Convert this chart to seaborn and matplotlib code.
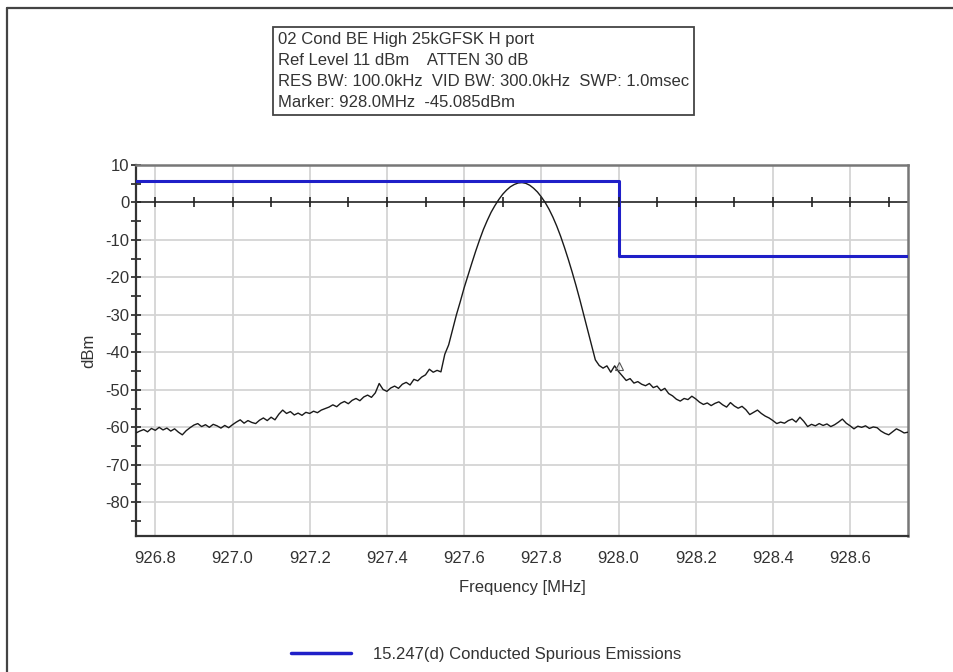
import numpy as np
import pandas as pd
import matplotlib
matplotlib.use("Agg")
import matplotlib.pyplot as plt
import seaborn as sns
from matplotlib.lines import Line2D

# ---------------- data ----------------
span_start, span_stop = 926.75, 928.75
trace_dbm = [
    -61.5, -61.0, -60.6, -61.2, -60.3, -60.8, -60.0, -60.7, -60.2, -61.0,
    -60.4, -61.3, -62.0, -60.9, -60.1, -59.4, -59.0, -59.8, -59.3, -60.0,
    -59.2, -59.6, -60.2, -59.5, -60.1, -59.3, -58.6, -58.0, -58.9, -58.2,
    -58.7, -59.0, -58.1, -57.5, -58.2, -57.3, -58.0, -56.5, -55.4, -56.3,
    -55.8, -56.7, -56.2, -56.8, -56.0, -56.3, -55.7, -56.1, -55.4, -55.0,
    -54.6, -54.0, -54.5, -53.6, -53.1, -53.7, -52.8, -52.3, -52.9, -51.9,
    -51.4, -52.0, -50.8, -48.3, -49.9, -50.4, -49.5, -49.0, -49.6, -48.5,
    -48.0, -48.7, -47.2, -47.6, -46.6, -46.0, -44.5, -45.3, -44.8, -45.2,
    -40.5, -38.0, -34.0, -30.0, -26.5, -22.8, -19.5, -16.2, -13.0, -10.0,
    -7.2, -4.8, -2.6, -0.8, 0.8, 2.2, 3.3, 4.2, 4.8, 5.2,
    5.3, 5.1, 4.6, 3.8, 2.8, 1.5, 0.0, -1.8, -3.9, -6.3,
    -9.0, -12.0, -15.2, -18.6, -22.2, -26.0, -30.0, -34.0, -38.0, -42.0,
    -43.5, -44.2, -43.6, -45.3, -43.6, -45.1, -46.3, -47.5, -47.0, -48.2,
    -47.8, -48.5, -48.9, -48.3, -49.4, -49.0, -50.2, -49.6, -51.0, -51.6,
    -52.5, -53.0, -52.3, -52.6, -51.7, -52.4, -53.3, -53.9, -53.5, -54.2,
    -53.6, -53.2, -54.0, -54.6, -53.4, -54.3, -54.9, -54.4, -55.3, -56.6,
    -56.0, -55.4, -56.3, -57.0, -57.5, -58.2, -59.0, -58.6, -58.9, -58.2,
    -57.8, -58.6, -57.3, -58.4, -59.8, -59.2, -59.6, -59.0, -59.5, -59.1,
    -59.8, -59.3, -58.6, -57.8, -58.9, -59.6, -60.4, -59.7, -60.0, -59.6,
    -60.3, -59.9, -60.1, -61.0, -61.6, -62.0, -61.2, -60.4, -60.9, -61.5,
    -61.3,
]
limit_freq = [926.75, 928.0, 928.75]
limit_dbm = [5.6, -14.4, -14.4]
marker_freq = 928.0
marker_dbm = -45.085

x_ticks = [926.8, 927.0, 927.2, 927.4, 927.6, 927.8, 928.0, 928.2, 928.4, 928.6]
y_ticks = [10, 0, -10, -20, -30, -40, -50, -60, -70, -80]

info_lines = [
    "02 Cond BE High 25kGFSK H port",
    "Ref Level 11 dBm    ATTEN 30 dB",
    "RES BW: 100.0kHz  VID BW: 300.0kHz  SWP: 1.0msec",
    "Marker: 928.0MHz  -45.085dBm",
]
legend_label = "15.247(d) Conducted Spurious Emissions"

# ---------------- frames ----------------
trace_freq = np.linspace(span_start, span_stop, len(trace_dbm))
df_trace = pd.DataFrame({"freq": trace_freq, "dbm": trace_dbm})
df_limit = pd.DataFrame({"freq": limit_freq, "dbm": limit_dbm})

# ---------------- style ----------------
sns.set_style("white")
plt.rcParams["font.family"] = ["Liberation Sans", "DejaVu Sans"]
plt.rcParams["axes.unicode_minus"] = False
text_col = "#333333"
fs = 12

fig = plt.figure(figsize=(9.54, 6.72), dpi=100)
ax = fig.add_axes([136 / 954, 1 - 536 / 672, (908 - 136) / 954, (536 - 165) / 672])

# grid
for xv in x_ticks:
    ax.axvline(xv, color="#d4d4d4", lw=1.3, zorder=0)
for yv in y_ticks:
    if yv != 0:
        ax.axhline(yv, color="#d4d4d4", lw=1.3, zorder=0)
ax.axhline(0, color="#222222", lw=1.2, zorder=1)

sns.lineplot(data=df_trace, x="freq", y="dbm", ax=ax, color="#1a1a1a",
             lw=1.0, estimator=None, sort=False, zorder=3)
sns.lineplot(data=df_limit, x="freq", y="dbm", ax=ax, color="#1f1fc8",
             lw=2.2, estimator=None, sort=False, drawstyle="steps-post", zorder=4)
ax.plot([marker_freq], [marker_dbm + 1.5], marker="^", ms=6, mfc="none",
        mec="#555555", mew=0.8, zorder=5)

ax.set_xlim(span_start, span_stop)
ax.set_ylim(-89, 10)
ax.set_xticks(x_ticks)
ax.set_xticklabels([f"{v:.1f}" for v in x_ticks])
ax.set_yticks(y_ticks)
ax.set_yticks(np.arange(-85, 10, 5), minor=True)
ax.tick_params(axis="x", length=0, pad=11, labelsize=fs, labelcolor=text_col)
ax.tick_params(axis="y", which="both", direction="inout", length=7, width=1.2,
               color="#222222", labelsize=fs, labelcolor=text_col, pad=1, left=True)
ax.set_xlabel("Frequency [MHz]", fontsize=fs, color=text_col, labelpad=10)
ax.set_ylabel("dBm", fontsize=fs, color=text_col, labelpad=7)

for s in ["left", "bottom"]:
    ax.spines[s].set_color("#333333")
    ax.spines[s].set_linewidth(1.6)
for s in ["top", "right"]:
    ax.spines[s].set_color("#777777")
    ax.spines[s].set_linewidth(1.8)

# tick marks every 0.1 MHz along the zero line
axz = ax.twiny()
axz.set_xlim(span_start, span_stop)
for s in ["top", "right", "left", "bottom"]:
    axz.spines[s].set_visible(False)
axz.spines["bottom"].set_position(("data", 0))
axz.xaxis.set_ticks_position("bottom")
axz.set_xticks(np.round(np.arange(926.8, 928.75, 0.1), 1))
axz.tick_params(axis="x", direction="inout", length=7, width=1.2,
                color="#222222", labelbottom=False, labeltop=False)
axz.patch.set_visible(False)

# info box
fig.text(278 / 954, 1 - 32 / 672, "\n".join(info_lines), ha="left", va="top",
         fontsize=fs, color=text_col, linespacing=1.5,
         bbox=dict(boxstyle="square,pad=0.3", fc="white", ec="#444444", lw=1.3))

# legend
fig.legend(handles=[Line2D([], [], color="#1f1fc8", lw=2.5)],
           labels=[legend_label], loc="center", frameon=False,
           bbox_to_anchor=(486 / 954, 1 - 654 / 672), fontsize=fs,
           handlelength=3.6, handletextpad=1.3, labelcolor=text_col)

# outer frame
fig.add_artist(Line2D([7 / 954, 7 / 954], [0, 1 - 8 / 672], transform=fig.transFigure,
                      color="#444444", lw=1.6))
fig.add_artist(Line2D([7 / 954, 1], [1 - 8 / 672, 1 - 8 / 672], transform=fig.transFigure,
                      color="#444444", lw=1.6))

fig.savefig("out.png", dpi=100, facecolor="white")
